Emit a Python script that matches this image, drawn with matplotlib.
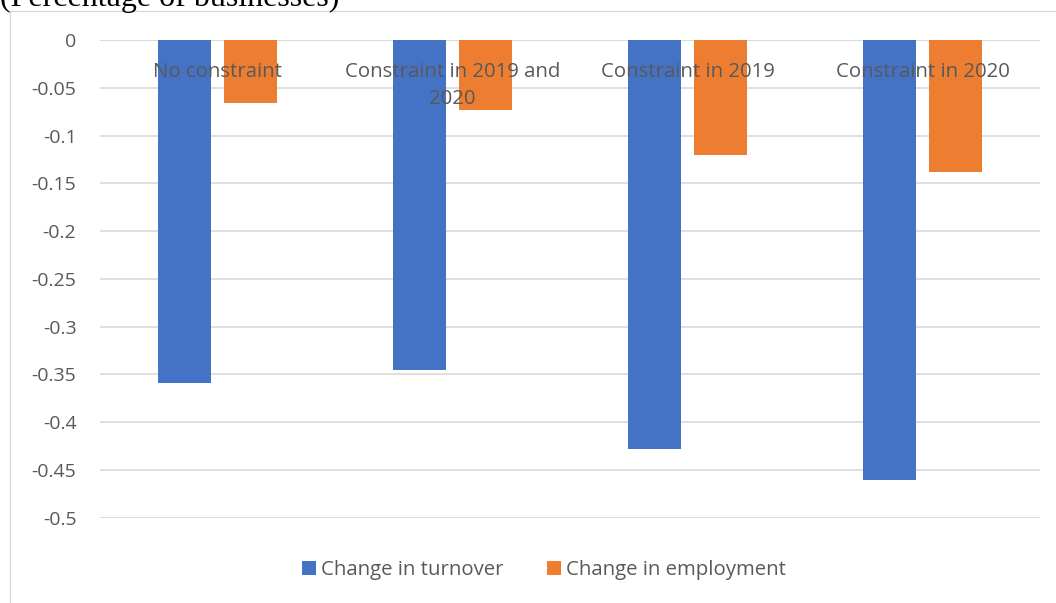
import matplotlib
matplotlib.use("Agg")
import matplotlib.pyplot as plt
from matplotlib.patches import Rectangle
import numpy as np

categories = ["No constraint", "Constraint in 2019 and\n2020", "Constraint in 2019", "Constraint in 2020"]
turnover = [-0.359, -0.345, -0.428, -0.461]
employment = [-0.066, -0.073, -0.120, -0.138]
series_names = ["Change in turnover", "Change in employment"]
yticks = [0, -0.05, -0.1, -0.15, -0.2, -0.25, -0.3, -0.35, -0.4, -0.45, -0.5]
ytick_labels = ["0", "-0.05", "-0.1", "-0.15", "-0.2", "-0.25", "-0.3", "-0.35", "-0.4", "-0.45", "-0.5"]

BLUE = "#4472C4"
ORANGE = "#ED7D31"
GRAY = "#595959"
FONT = "Open Sans"

W, H = 1056, 603
fig = plt.figure(figsize=(W / 100, H / 100), dpi=100)

# outer chart frame
fig.patches.append(Rectangle((10 / W, -0.1), 1.2, 1 - 11.5 / H + 0.1, transform=fig.transFigure,
                             fill=False, edgecolor="#d9d9d9", linewidth=1.0))

# title, partially cut at the top as in the reference
fig.text(0 / W, 1 - 6 / H, "(Percentage of businesses)", family="Liberation Serif",
         fontsize=23, va="baseline", ha="left", color="black")

ax = fig.add_axes([100 / W, 1 - 517.7 / H, 940 / W, (517.7 - 40) / H])
x = np.arange(len(categories))
bw = 0.2255
off = 0.1415
ax.bar(x - off, turnover, bw, color=BLUE, label=series_names[0], zorder=3)
ax.bar(x + off, employment, bw, color=ORANGE, label=series_names[1], zorder=3)

ax.set_xlim(-0.5, len(categories) - 0.5)
ax.set_ylim(-0.5, 0)
ax.set_yticks(yticks)
ax.set_yticklabels(ytick_labels, family=FONT, fontsize=14, color=GRAY)
ax.tick_params(axis="y", length=0, pad=17)
ax.set_xticks([])
ax.yaxis.grid(True, color="#d9d9d9", linewidth=1.2, zorder=0)
ax.set_axisbelow(True)
for s in ax.spines.values():
    s.set_visible(False)
ax.axhline(0, color="#d9d9d9", linewidth=1.2, zorder=1)
ax.axhline(-0.5, color="#d9d9d9", linewidth=1.2, zorder=1)

for xi, c in zip(x, categories):
    ax.annotate(c, (xi, 0), xycoords="data", xytext=(0, -22), textcoords="offset pixels",
                ha="center", va="top", family=FONT, fontsize=14.7, color=GRAY, zorder=5,
                linespacing=1.5)

leg = fig.legend(loc="center", bbox_to_anchor=(544 / W, 1 - 570 / H), ncol=2, frameon=False,
                 prop={"family": FONT, "size": 14.7}, handlelength=0.69, handleheight=0.69,
                 handletextpad=0.25, columnspacing=2.1)
for t in leg.get_texts():
    t.set_color(GRAY)

fig.savefig("out.png", dpi=100)
